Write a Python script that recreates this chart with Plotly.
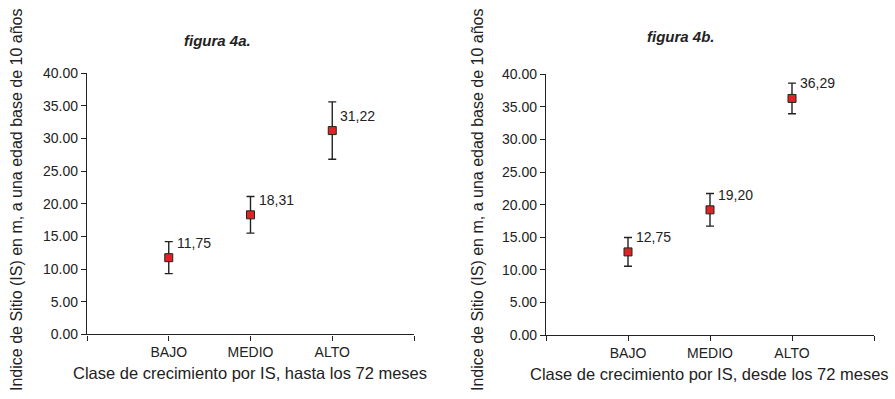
import plotly.graph_objects as go

categories = ["BAJO", "MEDIO", "ALTO"]
means_a = [11.75, 18.31, 31.22]
err_a = [2.45, 2.8, 4.4]
means_b = [12.75, 19.20, 36.29]
err_b = [2.2, 2.5, 2.35]
labels_a = ["11,75", "18,31", "31,22"]
labels_b = ["12,75", "19,20", "36,29"]
yticks = [0, 5, 10, 15, 20, 25, 30, 35, 40]

FONT = "Arial, Liberation Sans, sans-serif"
INK = "#222222"
xpos = list(range(1, len(categories) + 1))

fig = go.Figure()
for i, (m, e) in enumerate([(means_a, err_a), (means_b, err_b)]):
    fig.add_trace(go.Scatter(
        x=xpos, y=m, mode="markers",
        marker=dict(symbol="square", size=8, color="#dc2626",
                    line=dict(color="#222222", width=1)),
        error_y=dict(type="data", array=e, visible=True, color=INK,
                     thickness=1.4, width=4),
        xaxis="x" if i == 0 else "x2", yaxis="y" if i == 0 else "y2",
        showlegend=False, hoverinfo="skip"))

common_x = dict(range=[0, 4], tickvals=[0] + xpos + [4],
                ticktext=[""] + categories + [""], showgrid=False,
                zeroline=False, showline=True, linecolor=INK, linewidth=1.4,
                ticks="outside", ticklen=5, tickwidth=1.4, tickcolor=INK,
                tickfont=dict(family=FONT, size=14, color=INK), fixedrange=True)
common_y = dict(range=[0, 40], tickvals=yticks,
                ticktext=[f"{v:.2f}" for v in yticks], showgrid=False,
                zeroline=False, showline=True, linecolor=INK, linewidth=1.4,
                ticks="outside", ticklen=5, tickwidth=1.4, tickcolor=INK,
                tickfont=dict(family=FONT, size=14, color=INK), fixedrange=True)

fig.update_layout(
    width=895, height=399, margin=dict(l=0, r=0, t=0, b=0),
    paper_bgcolor="white", plot_bgcolor="white",
    xaxis=dict(domain=[87/895, 414/895], anchor="y", **common_x),
    yaxis=dict(domain=[59/399, 331/399], anchor="x", **common_y),
    xaxis2=dict(domain=[546/895, 874/895], anchor="y2", **common_x),
    yaxis2=dict(domain=[58.3/399, 330/399], anchor="x2", **common_y),
)

ann = []
for xa, ya, m, lab in [("x", "y", means_a, labels_a), ("x2", "y2", means_b, labels_b)]:
    for xp, v, t in zip(xpos, m, lab):
        ann.append(dict(x=xp, y=v, xref=xa, yref=ya, text=t, showarrow=False,
                        xanchor="left", yanchor="middle", xshift=6, yshift=15,
                        font=dict(family=FONT, size=14, color=INK)))

ytitle = "Indice de Sitio (IS) en m, a una edad base de 10 años"
for x, y, t in [(217/895, 1 - 34/399, "<b><i>figura 4a.</i></b>"),
                (681/895, 1 - 30/399, "<b><i>figura 4b.</i></b>")]:
    ann.append(dict(x=x, y=y, xref="paper", yref="paper", text=t, showarrow=False,
                    xanchor="center", yanchor="middle",
                    font=dict(family=FONT, size=15, color=INK)))
for x in [17/895, 478/895]:
    ann.append(dict(x=x, y=1 - 200/399, xref="paper", yref="paper", text=ytitle,
                    showarrow=False, textangle=-90, xanchor="center", yanchor="middle",
                    font=dict(family=FONT, size=16, color=INK)))
for x, y, t in [(250/895, 1 - 380/399, "Clase de crecimiento por IS, hasta los 72 meses"),
                (709/895, 1 - 381/399, "Clase de crecimiento por IS, desde los 72 meses")]:
    ann.append(dict(x=x, y=y, xref="paper", yref="paper", text=t, showarrow=False,
                    xanchor="center", yanchor="middle",
                    font=dict(family=FONT, size=16.5, color=INK)))
fig.update_layout(annotations=ann)

fig.write_html("out.html", config={"displayModeBar": False},
               post_script="document.body.style.margin='0';document.body.style.overflow='hidden';")
